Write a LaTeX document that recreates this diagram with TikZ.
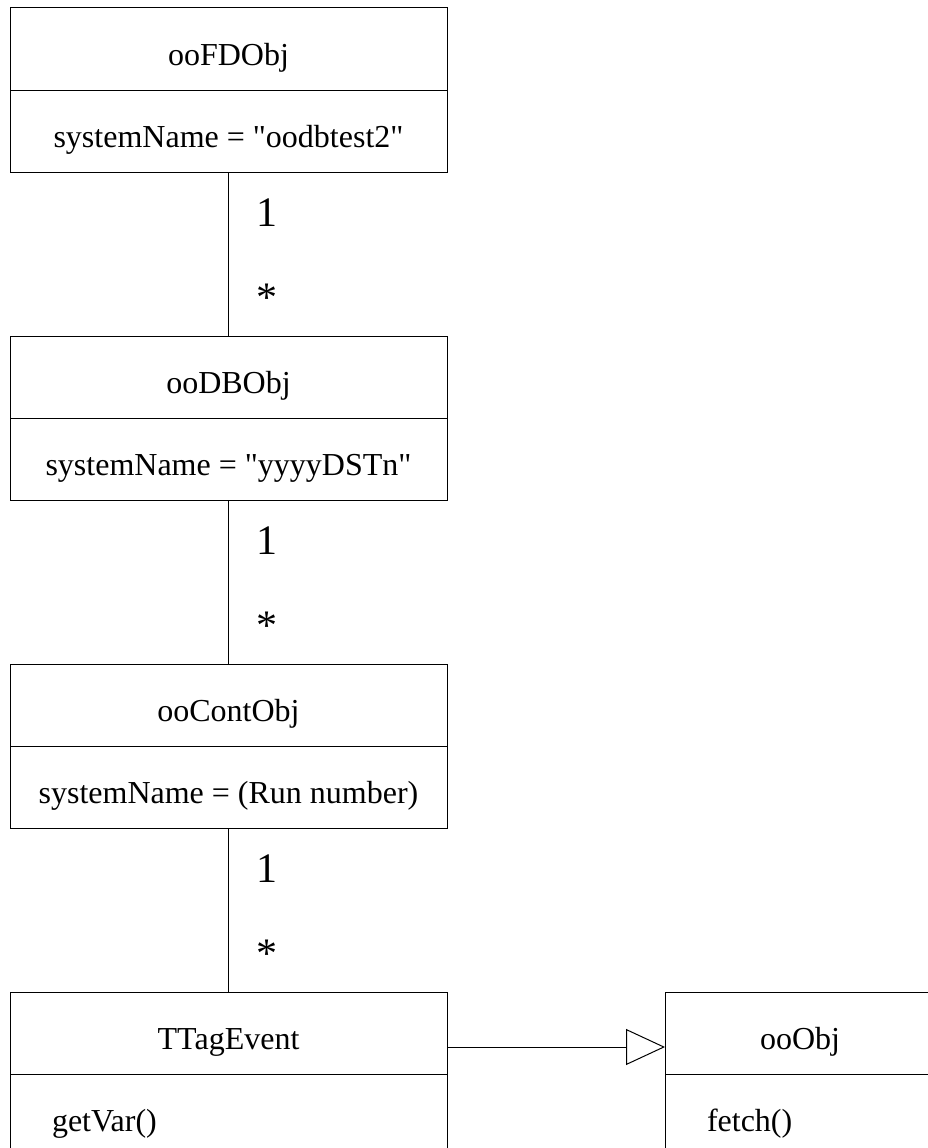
\documentclass[tikz,border=0pt]{standalone}
\usepackage{fontspec}
\setmainfont{Liberation Serif}
\usepackage{tikz}
\usetikzlibrary{positioning}
\usetikzlibrary{arrows.meta}

\begin{document}
\begin{tikzpicture}[x=1pt,y=-1pt,
    part/.style={draw, line width=1pt, outer sep=0pt, inner sep=0pt,
      minimum width=437pt, minimum height=82pt,
      text height=33pt, text depth=0pt, font=\fontsize{32}{38}\selectfont},
    mult/.style={inner sep=0pt, xshift=38pt, font=\fontsize{42}{48}\selectfont}]
       \useasboundingbox (0,0) rectangle (928,1148);
       \node[part] (fdT) at (228.5,49) {ooFDObj};
       \node[part, below=0pt of fdT] (fdA) {systemName = \textquotedbl oodbtest2\textquotedbl};
       \node[part, below=164pt of fdA] (dbT) {ooDBObj};
       \node[part, below=0pt of dbT] (dbA) {systemName = \textquotedbl yyyyDSTn\textquotedbl};
       \node[part, below=164pt of dbA] (coT) {ooContObj};
       \node[part, below=0pt of coT] (coA) {systemName = (Run number)};
       \node[part, below=164pt of coA] (evT) {TTagEvent};
       \node[part, below=0pt of evT, inner xsep=42pt, text width=353pt, align=left] (evA) {getVar()};
       \node[part, minimum width=270pt, right=218pt of evT] (objT) {ooObj};
       \node[part, minimum width=270pt, below=0pt of objT, inner xsep=42pt, text width=186pt, align=left] (objA) {fetch()};
       \foreach \a/\b in {fdA/dbT, dbA/coT, coA/evT}
       {
         \draw[line width=1pt] (\a) -- (\b) node[mult, pos=0.25] {1} node[mult, pos=0.765] {*};
       }
       \draw[line width=1pt, -{Triangle[open, length=39pt, width=36pt]}]
         ([yshift=-14pt]evT.east) -- ([yshift=-14pt]objT.west);
     \end{tikzpicture}
\end{document}
